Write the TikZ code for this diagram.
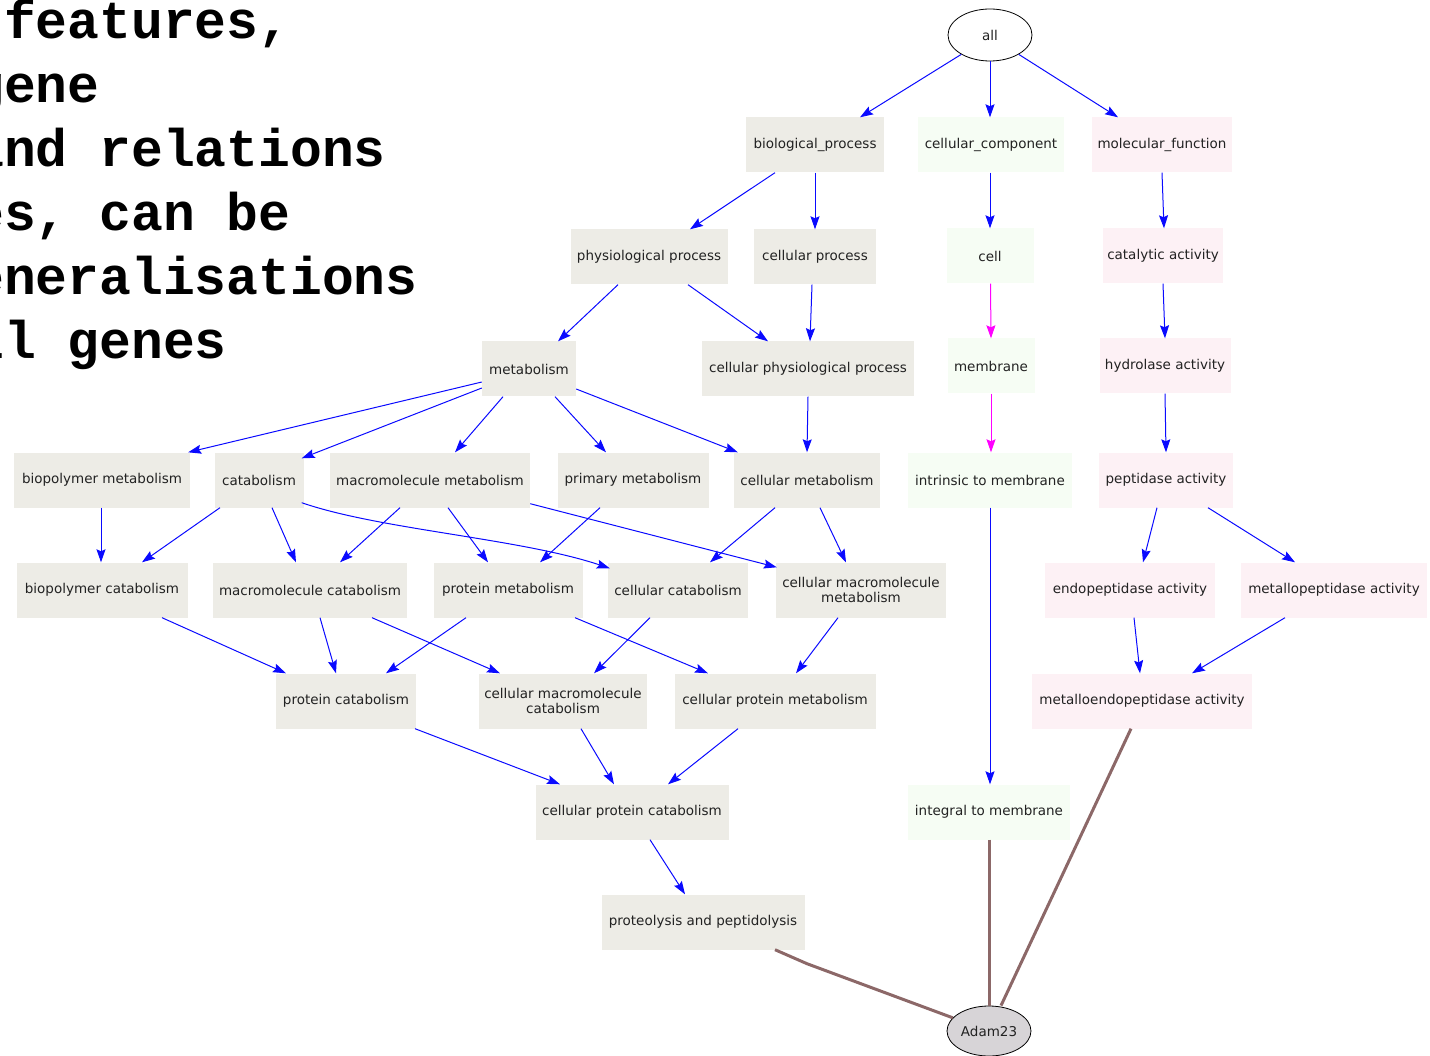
\documentclass[tikz,border=0pt]{standalone}
\usepackage{fontspec}
\newfontfamily\labelfont{DejaVu Sans}
\newfontfamily\slidefont{Liberation Mono}
\usetikzlibrary{arrows.meta,calc,shapes.geometric}

\definecolor{bpfill}{RGB}{237,236,230}
\definecolor{ccfill}{RGB}{246,253,244}
\definecolor{mffill}{RGB}{253,241,245}
\definecolor{edgeblue}{RGB}{10,10,255}
\definecolor{partof}{RGB}{255,0,255}
\definecolor{genelink}{RGB}{140,104,104}
\definecolor{labeltext}{RGB}{34,34,34}
\definecolor{genefill}{RGB}{215,212,215}

\begin{document}
\begin{tikzpicture}[x=1pt,y=-1pt,
  term/.style={rectangle, inner sep=0pt, minimum height=55pt, text=labeltext,
    font=\labelfont\fontsize{13.5}{14.5}\selectfont, align=center},
  bp/.style={term, fill=bpfill},
  cc/.style={term, fill=ccfill},
  mf/.style={term, fill=mffill},
  rootnode/.style={ellipse, draw=black, line width=0.8pt, inner sep=0pt, text=labeltext,
    font=\labelfont\fontsize{13.5}{14.5}\selectfont},
  isa/.style={draw=edgeblue, line width=1pt, -{Stealth[length=13pt,width=9pt,inset=2pt]}},
  partlink/.style={isa, draw=partof},
  genelinkstyle/.style={draw=genelink, line width=3pt},
  slide/.style={anchor=base west, inner sep=0pt, text=black,
    font=\slidefont\bfseries\fontsize{53}{64}\selectfont}
]
\useasboundingbox (0,0) rectangle (1430,1056);
\clip (0,0) rectangle (1430,1056);

% slide text running in from the left
\node[slide] (l1) at (4,39) {features,};
\node[slide] (l2) at (-27.8,103) {gene};
\node[slide] (l3) at (-27.8,167) {and relations};
\node[slide] (l4) at (-123.2,231) {genes, can be};
\node[slide] (l5) at (-59.6,295) {generalisations};
\node[slide] (l6) at (-59.6,359) {all genes};

% root and the three ontologies
\node[rootnode, fill=white, minimum width=84pt, minimum height=52pt] (all) at (990,35) {all};
\node[bp, minimum width=138pt] (bio) at (815,145) {biological\_process};
\node[cc, minimum width=146pt] (cc) at (991,145) {cellular\_component};
\node[mf, minimum width=140pt] (mf) at (1162,145) {molecular\_function};

% row 2
\node[bp, minimum width=157pt] (phys) at (649,257) {physiological process};
\node[bp, minimum width=122pt] (cproc) at (815,257) {cellular process};
\node[cc, minimum width=87pt] (cell) at (990,256) {cell};
\node[mf, minimum width=120pt] (cat) at (1163,256) {catalytic activity};

% row 3
\node[bp, minimum width=94pt] (metab) at (529,369) {metabolism};
\node[bp, minimum width=212pt] (cpp) at (808,369) {cellular physiological process};
\node[cc, minimum width=87pt] (memb) at (991,366) {membrane};
\node[mf, minimum width=131pt] (hydro) at (1165,366) {hydrolase activity};

% row 4
\node[bp, minimum width=176pt] (biom) at (102,480) {biopolymer metabolism};
\node[bp, minimum width=89pt] (catab) at (259,480) {catabolism};
\node[bp, minimum width=200pt] (macm) at (430,480) {macromolecule metabolism};
\node[bp, minimum width=151pt] (prim) at (633,480) {primary metabolism};
\node[bp, minimum width=146pt] (cellm) at (807,480) {cellular metabolism};
\node[cc, minimum width=164pt] (intr) at (990,480) {intrinsic to membrane};
\node[mf, minimum width=134pt] (pept) at (1166,480) {peptidase activity};

% row 5
\node[bp, minimum width=171pt] (bioc) at (102,590) {biopolymer catabolism};
\node[bp, minimum width=194pt] (macc) at (310,590) {macromolecule catabolism};
\node[bp, minimum width=149pt] (protm) at (508,590) {protein metabolism};
\node[bp, minimum width=140pt] (cellc) at (678,590) {cellular catabolism};
\node[bp, minimum width=170pt] (cmm) at (861,590) {cellular macromolecule\\metabolism};
\node[mf, minimum width=170pt] (endo) at (1130,590) {endopeptidase activity};
\node[mf, minimum width=186pt] (metp) at (1334,590) {metallopeptidase activity};

% row 6
\node[bp, minimum width=140pt] (protc) at (346,701) {protein catabolism};
\node[bp, minimum width=168pt] (cmc) at (563,701) {cellular macromolecule\\catabolism};
\node[bp, minimum width=201pt] (cpm) at (775,701) {cellular protein metabolism};
\node[mf, minimum width=220pt] (meend) at (1142,701) {metalloendopeptidase activity};

% rows 7 and 8
\node[bp, minimum width=193pt] (cpc) at (632,812) {cellular protein catabolism};
\node[cc, minimum width=162pt] (integ) at (989,812) {integral to membrane};
\node[bp, minimum width=203pt] (proteo) at (703,922) {proteolysis and peptidolysis};

% the annotated gene
\node[rootnode, fill=genefill, minimum width=84pt, minimum height=50pt] (adam) at (989,1031) {Adam23};

% is-a links
\draw[isa] (all.214) -- ([xshift=45pt]bio.north);
\draw[isa] (all.south) -- (cc.north -| all.south);
\draw[isa] (all.-34) -- ([xshift=-44pt]mf.north);
\draw[isa] ([xshift=-40pt]bio.south) -- ([xshift=41pt]phys.north);
\draw[isa] (bio.south) -- (cproc.north);
\draw[isa] ([xshift=-1pt]cc.south) -- (cell.north);
\draw[isa] (mf.south) -- ([xshift=1pt]cat.north);
\draw[isa] ([xshift=-31pt]phys.south) -- ([xshift=29pt]metab.north);
\draw[isa] ([xshift=39pt]phys.south) -- ([xshift=-40pt]cpp.north);
\draw[isa] ([xshift=-3pt]cproc.south) -- ([xshift=2pt]cpp.north);
\draw[isa] (cat.south) -- (hydro.north);
\draw[isa] ([yshift=-13pt]metab.west) -- ([xshift=-2pt]biom.north east);
\draw[isa] ([yshift=-19pt]metab.west) -- ([xshift=-2pt,yshift=-6pt]catab.north east);
\draw[isa] ([xshift=-26pt]metab.south) -- ([xshift=25pt]macm.north);
\draw[isa] ([xshift=26pt]metab.south) -- ([xshift=-27pt]prim.north);
\draw[isa] ([yshift=-20pt]metab.east) -- ([xshift=4pt]cellm.north west);
\draw[isa] (cpp.south) -- (cellm.north);
\draw[isa] (hydro.south) -- (pept.north);
\draw[isa] ([xshift=-1pt]biom.south) -- ([xshift=-1pt]bioc.north);
\draw[isa] ([xshift=-39pt]catab.south) -- ([xshift=40pt]bioc.north);
\draw[isa] ([xshift=13pt]catab.south) -- ([xshift=-14pt]macc.north);
\draw[isa] ([xshift=-2pt,yshift=5pt]catab.south east)
  .. controls ([xshift=76pt,yshift=-22pt]catab.south east) and ([xshift=-88pt,yshift=24pt]cellc.north west)
  .. ([xshift=2pt,yshift=-6pt]cellc.north west);
\draw[isa] ([xshift=-30pt]macm.south) -- ([xshift=30pt]macc.north);
\draw[isa] ([xshift=18pt]macm.south) -- ([xshift=-20pt]protm.north);
\draw[isa] ([yshift=4pt]macm.south east) -- ([xshift=1pt,yshift=-5pt]cmm.north west);
\draw[isa] ([xshift=-33pt]prim.south) -- ([xshift=32pt]protm.north);
\draw[isa] ([xshift=-32pt]cellm.south) -- ([xshift=32pt]cellc.north);
\draw[isa] ([xshift=13pt]cellm.south) -- ([xshift=-15pt]cmm.north);
\draw[isa] ([xshift=60pt]bioc.south) -- ([xshift=-60pt]protc.north);
\draw[isa] ([xshift=10pt]macc.south) -- ([xshift=-10pt]protc.north);
\draw[isa] ([xshift=62pt]macc.south) -- ([xshift=-63pt]cmc.north);
\draw[isa] ([xshift=-42pt]protm.south) -- ([xshift=40pt]protc.north);
\draw[isa] ([xshift=67pt]protm.south) -- ([xshift=-67pt]cpm.north);
\draw[isa] ([xshift=-28pt]cellc.south) -- ([xshift=31pt]cmc.north);
\draw[isa] ([xshift=-23pt]cmm.south) -- ([xshift=21pt]cpm.north);
\draw[isa] ([xshift=-9pt]pept.south) -- ([xshift=13pt]endo.north);
\draw[isa] ([xshift=42pt]pept.south) -- ([xshift=-39pt]metp.north);
\draw[isa] ([xshift=4pt]endo.south) -- ([xshift=-2pt]meend.north);
\draw[isa] ([xshift=-49pt]metp.south) -- ([xshift=50pt]meend.north);
\draw[isa] (intr.south) -- ([xshift=1pt]integ.north);
\draw[isa] ([xshift=69pt]protc.south) -- ([xshift=-72pt]cpc.north);
\draw[isa] ([xshift=18pt]cmc.south) -- ([xshift=-18pt]cpc.north);
\draw[isa] ([xshift=-37pt]cpm.south) -- ([xshift=36pt]cpc.north);
\draw[isa] ([xshift=18pt]cpc.south) -- ([xshift=-18pt]proteo.north);

% part-of links
\draw[partlink] ([xshift=0.5pt]cell.south) -- (memb.north);
\draw[partlink] (memb.south) -- ([xshift=1pt]intr.north);

% gene annotations
\draw[genelinkstyle] ([xshift=72pt]proteo.south) -- ([xshift=104pt,yshift=-14pt]proteo.south) -- (adam.160);
\draw[genelinkstyle] (integ.south) -- (adam.north);
\draw[genelinkstyle] ([xshift=-11pt]meend.south) -- ([xshift=12pt]adam.north);
\end{tikzpicture}
\end{document}
